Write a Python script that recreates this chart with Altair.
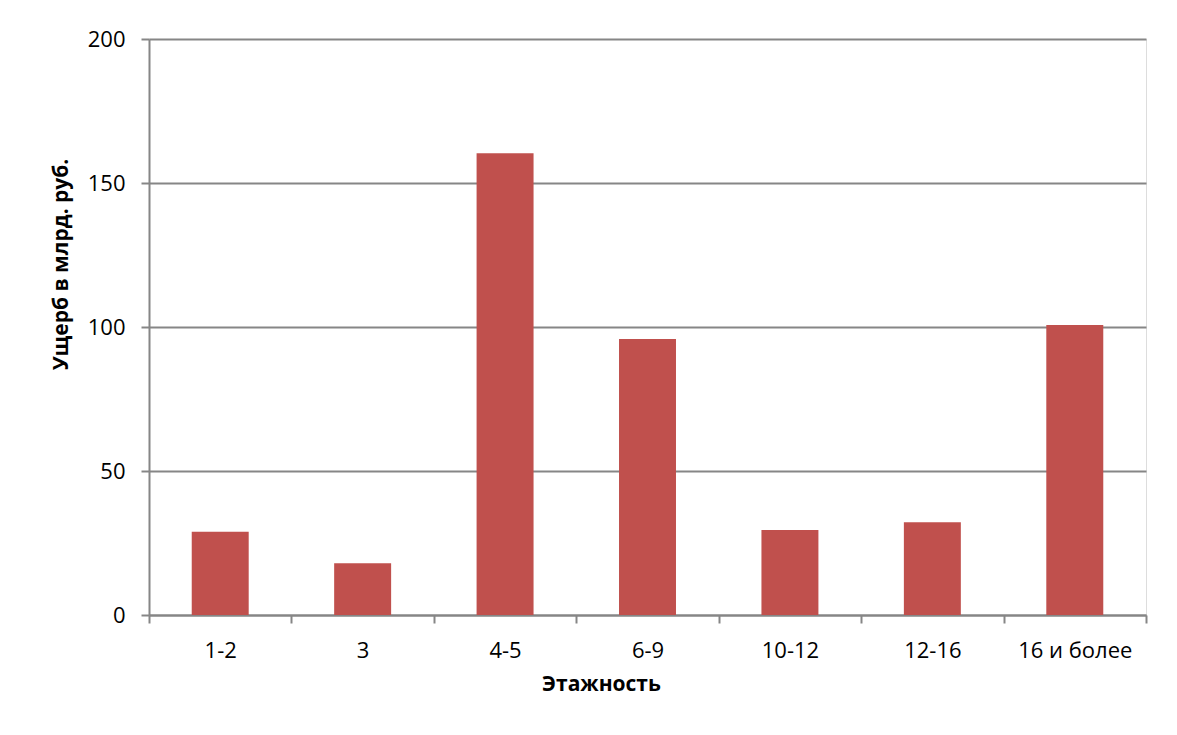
import altair as alt
import pandas as pd

categories = ["1-2", "3", "4-5", "6-9", "10-12", "12-16", "16 и более"]
values = [28.9, 18.0, 160.3, 95.8, 29.5, 32.2, 100.7]

df = pd.DataFrame({"cat": categories, "val": values})

FONT = "Open Sans"
GRAY = "#868686"

chart = (
    alt.Chart(df)
    .mark_bar(color="#C0504D", width=alt.RelativeBandSize(0.4))
    .encode(
        x=alt.X(
            "cat:N",
            sort=categories,
            scale=alt.Scale(paddingInner=0, paddingOuter=0),
            axis=alt.Axis(
                title="Этажность",
                titleFont=FONT,
                titleFontSize=21,
                titleFontWeight="bold",
                titleColor="#000000",
                titleX=452,
                titleY=69,
                titleAlign="center",
                titleBaseline="middle",
                labelFont=FONT,
                labelFontSize=22,
                labelColor="#000000",
                labelAngle=0,
                labelBaseline="middle",
                labelPadding=27,
                tickBand="extent",
                tickSize=8,
                tickColor=GRAY,
                tickWidth=2,
                domainColor=GRAY,
                domainWidth=2,
                grid=False,
            ),
        ),
        y=alt.Y(
            "val:Q",
            scale=alt.Scale(domain=[0, 200], nice=False),
            axis=alt.Axis(
                title="Ущерб в млрд. руб.",
                values=[0, 50, 100, 150, 200],
                titleFont=FONT,
                titleFontSize=21,
                titleFontWeight="bold",
                titleColor="#000000",
                titleAngle=270,
                titleX=-88,
                titleY=225,
                titleAlign="center",
                titleBaseline="middle",
                labelFont=FONT,
                labelFontSize=22,
                labelColor="#000000",
                labelPadding=16,
                tickSize=8,
                tickColor=GRAY,
                tickWidth=2,
                domainColor=GRAY,
                domainWidth=2,
                grid=True,
                gridColor=GRAY,
                gridWidth=2,
            ),
        ),
    )
    .properties(
        width=997,
        height=576,
        padding={"left": 141, "top": 31, "right": 20, "bottom": 100},
        autosize=alt.AutoSizeParams(type="none"),
    )
    .configure_view(stroke=None)
    .configure(background="white")
)

chart.save("out.html", embed_options={"renderer": "svg", "actions": False})
